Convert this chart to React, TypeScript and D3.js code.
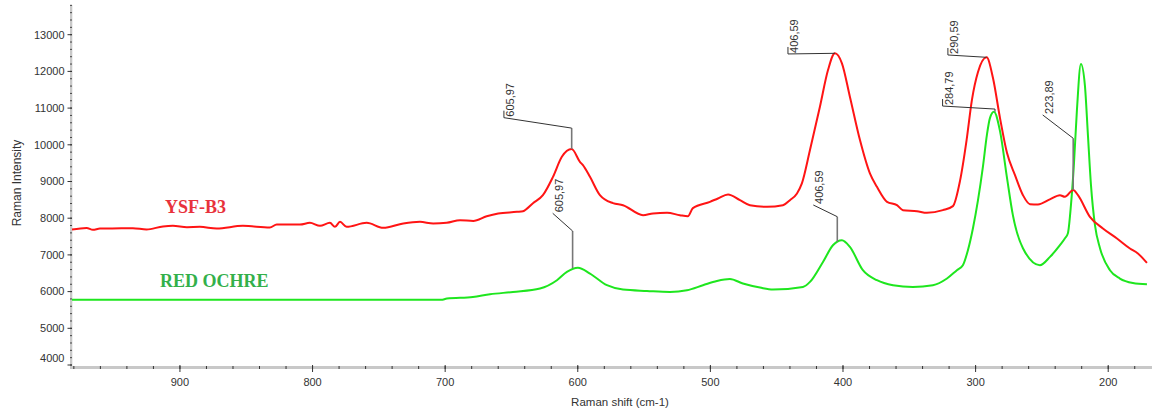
import React from 'react';
import * as d3 from 'd3';

// ---- data ----
const redShift = [981.4, 970.4, 965.6, 960.3, 952.8, 935.5, 925.2, 912.8, 905.3, 894.7, 885.0, 872.3, 852.5, 832.2, 827.0, 809.5, 802.0, 794.4, 786.9, 783.1, 779.3, 774.3, 759.2, 746.7, 731.6, 719.0, 709.0, 698.9, 688.8, 678.8, 668.7, 660.0, 645.9, 641.3, 633.8, 626.3, 618.7, 612.0, 604.6, 598.4, 596.1, 590.8, 583.3, 573.5, 565.9, 550.8, 543.3, 532.7, 523.0, 517.0, 513.2, 500.3, 494.3, 486.7, 477.7, 470.2, 457.3, 445.3, 440.0, 434.7, 431.0, 424.9, 417.4, 411.3, 406.1, 400.8, 394.8, 387.2, 379.7, 374.4, 366.8, 359.3, 354.8, 344.2, 336.7, 324.7, 317.1, 311.8, 306.8, 302.8, 298.2, 291.7, 286.9, 281.6, 276.3, 270.3, 264.3, 259.0, 253.0, 244.0, 236.4, 232.7, 226.4, 222.8, 213.8, 204.0, 193.4, 183.6, 177.6, 170.8];
const redIntensity = [7693, 7736, 7682, 7720, 7720, 7728, 7693, 7775, 7791, 7755, 7764, 7720, 7791, 7747, 7829, 7829, 7873, 7791, 7873, 7764, 7900, 7764, 7873, 7737, 7856, 7900, 7856, 7873, 7946, 7927, 8055, 8129, 8173, 8192, 8410, 8628, 9127, 9673, 9883, 9536, 9446, 9127, 8628, 8410, 8355, 8083, 8129, 8146, 8083, 8055, 8274, 8446, 8538, 8647, 8492, 8355, 8309, 8355, 8492, 8675, 8947, 9856, 11036, 12037, 12493, 12220, 11309, 10128, 9220, 8855, 8446, 8355, 8219, 8192, 8146, 8219, 8329, 9010, 10128, 11219, 11983, 12384, 11819, 10728, 9774, 9174, 8628, 8383, 8374, 8511, 8628, 8582, 8769, 8628, 8036, 7720, 7447, 7174, 7038, 6782];

const greenShift = [981.4, 703.0, 698.7, 679.1, 666.2, 648.9, 628.5, 615.7, 608.2, 599.9, 590.8, 578.0, 565.9, 547.8, 530.5, 517.7, 505.6, 495.1, 485.3, 475.5, 462.6, 452.8, 430.2, 424.9, 415.1, 407.6, 400.8, 394.8, 385.0, 374.4, 362.3, 347.3, 332.2, 321.6, 314.1, 309.6, 305.8, 302.0, 298.2, 294.5, 291.5, 289.2, 286.2, 281.6, 276.3, 271.9, 264.3, 251.5, 243.9, 236.4, 232.6, 230.4, 228.1, 225.9, 223.6, 220.6, 217.6, 215.3, 213.0, 210.0, 206.2, 198.7, 191.2, 181.4, 170.8];
const greenIntensity = [5775, 5775, 5811, 5855, 5928, 5991, 6084, 6310, 6537, 6651, 6493, 6174, 6056, 6018, 5991, 6037, 6174, 6291, 6345, 6220, 6111, 6056, 6127, 6264, 6809, 7264, 7401, 7218, 6583, 6310, 6174, 6127, 6174, 6356, 6583, 6719, 7128, 7728, 8492, 9400, 10264, 10728, 10900, 10373, 9092, 8083, 7183, 6719, 6946, 7264, 7455, 7592, 8355, 9446, 10946, 12201, 11628, 10264, 8901, 7810, 7183, 6583, 6356, 6236, 6201];

const seriesNames = ['YSF-B3', 'RED OCHRE'];
const xTicks = [900, 800, 700, 600, 500, 400, 300, 200];
const yTicks = [4000, 5000, 6000, 7000, 8000, 9000, 10000, 11000, 12000, 13000];

// peak annotations
const annLabel = ['605,97', '605,97', '406,59', '406,59', '290,59', '284,79', '223,89'];
const annSeries = [0, 1, 0, 1, 0, 1, 0];
const annPeakShift = [604.6, 603.9, 406.1, 404.3, 291.7, 285.4, 226.4];
const annPeakValue = [9883, 6637, 12493, 7360, 12384, 10900, 8769];
const annElbowValue = [10455, 7651, 12493, 8041, 12384, 10974, 10178];
const annLabelShift = [655.7, 618.9, 441.5, 422.4, 320.9, 324.9, 249.4];
const annLabelValue = [10739, 8134, 12475, 8360, 12447, 11056, 10813];
const annTickMark = [true, false, true, false, true, true, false];

const SANS = '"Liberation Sans", Arial, sans-serif';
const SERIF = '"Liberation Serif", "Times New Roman", serif';

export default function App() {
  const x = d3.scaleLinear().domain([981.4, 170]).range([72, 1148]);
  const y = d3.scaleLinear().domain([3954, 13809]).range([366.7, 5]);
  const line = d3
    .line<number>()
    .x((_, i, arr) => 0)
    .curve(d3.curveMonotoneX);

  const mk = (xs: number[], ys: number[]) =>
    d3
      .line<number>()
      .x((d) => x(xs[d]))
      .y((d) => y(ys[d]))
      .curve(d3.curveMonotoneX)(d3.range(xs.length)) || '';

  const redPath = mk(redShift, redIntensity);
  const greenPath = mk(greenShift, greenIntensity);

  const xMinor = d3.range(980, 169, -20);
  const yMinor = d3.range(4000, 13801, 200);
  const yBottom = y.range()[0];

  return (
    <svg
      width={1152}
      height={416}
      style={{ position: 'absolute', left: 0, top: 0, background: '#fff' }}
      fontFamily={SANS}
    >
      <rect x={0} y={0} width={1152} height={416} fill="#fff" />
      {/* Y axis */}
      <rect x={70} y={5} width={2.3} height={yBottom - 5 + 2} fill="#c8c8c8" />
      {yMinor.map((v) => (
        <line key={'ym' + v} x1={70} x2={72} y1={y(v)} y2={y(v)} stroke="#444" strokeWidth={1} />
      ))}
      {yTicks.map((v) => (
        <g key={'yt' + v}>
          <line x1={67.5} x2={72} y1={y(v)} y2={y(v)} stroke="#333" strokeWidth={1} />
          <text
            x={64.5}
            y={Math.min(y(v), yBottom - 8.5)}
            dy="0.35em"
            textAnchor="end"
            fontSize={11}
            fill="#333"
          >
            {v}
          </text>
        </g>
      ))}
      <text
        transform={`translate(21,183) rotate(-90)`}
        textAnchor="middle"
        fontSize={12}
        fill="#333"
      >
        Raman Intensity
      </text>

      {/* X axis */}
      <rect x={70} y={366} width={1082} height={3} fill="#c8c8c8" />
      {xMinor.map((v) => (
        <line key={'xm' + v} x1={x(v)} x2={x(v)} y1={366} y2={369} stroke="#333" strokeWidth={1} />
      ))}
      {xTicks.map((v) => (
        <g key={'xt' + v}>
          <line x1={x(v)} x2={x(v)} y1={365} y2={372} stroke="#333" strokeWidth={1} />
          <text x={x(v)} y={385.5} textAnchor="middle" fontSize={11} fill="#333">
            {v}
          </text>
        </g>
      ))}
      <text x={620} y={406} textAnchor="middle" fontSize={11.5} fill="#333">
        Raman shift (cm-1)
      </text>

      {/* spectra */}
      <path d={greenPath} fill="none" stroke="#1ee61e" strokeWidth={2} strokeLinejoin="round" />
      <path d={redPath} fill="none" stroke="#ff1414" strokeWidth={2} strokeLinejoin="round" />

      {/* annotations */}
      {annLabel.map((lab, i) => {
        const px = x(annPeakShift[i]);
        const py = y(annPeakValue[i]);
        const ey = y(annElbowValue[i]);
        const lx = x(annLabelShift[i]);
        const ly = y(annLabelValue[i]);
        return (
          <g key={'ann' + i}>
            <line x1={px} x2={px} y1={py} y2={ey} stroke="#777" strokeWidth={1.6} />
            <line x1={px} x2={lx} y1={ey} y2={ly} stroke="#333" strokeWidth={1} />
            {annTickMark[i] && (
              <line x1={lx} x2={lx} y1={ly - 7} y2={ly} stroke="#333" strokeWidth={1} />
            )}
            <text
              transform={`translate(${lx + 10},${ly - 1}) rotate(-90)`}
              fontSize={11}
              fill="#333"
            >
              {lab}
            </text>
          </g>
        );
      })}

      {/* series labels */}
      <text x={165} y={213} fontFamily={SERIF} fontWeight="bold" fontSize={18} fill="#e8323c">
        {seriesNames[0]}
      </text>
      <text x={160} y={287} fontFamily={SERIF} fontWeight="bold" fontSize={18} fill="#33b04a">
        {seriesNames[1]}
      </text>
    </svg>
  );
}
